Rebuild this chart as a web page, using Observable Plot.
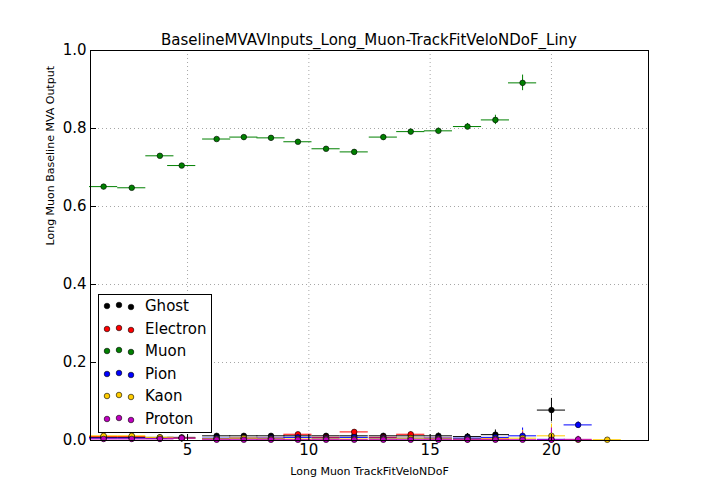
<!DOCTYPE html>
<html><head><meta charset="utf-8">
<script src="https://cdn.jsdelivr.net/npm/d3@7"></script>
<script src="https://cdn.jsdelivr.net/npm/@observablehq/plot@0.6"></script>
<style>
body{margin:0;background:#fff;font-family:"DejaVu Sans",sans-serif}
#wrap{position:relative;width:720px;height:504px}
#title{position:absolute;top:31px;left:90px;width:558px;text-align:center;font-size:15px}
#legend{position:absolute;left:98px;top:294px;width:112px;height:137px;border:1px solid #000;background:#fff;font-size:15px}
#legend div{height:22.5px;display:flex;align-items:center}
</style></head><body>
<div id="wrap"><div id="chart"></div><div id="title">BaselineMVAVInputs_Long_Muon-TrackFitVeloNDoF_Liny</div><div id="legend"></div></div>
<script>
const xCenters = [1.54,2.70,3.86,4.76,6.20,7.32,8.44,9.55,10.71,11.87,13.07,14.20,15.34,16.54,17.69,18.81,20.0,21.1,22.3];
const species = ["Ghost","Electron","Muon","Pion","Kaon","Proton"];
const colors = ["#000000","#ff0000","#008000","#0000ff","#ffcc00","#bf00bf"];
const ghost    = [0.008,0.008,0.008,0.008,0.012,0.012,0.012,0.012,0.012,0.012,0.012,0.012,0.012,0.010,0.015,null,0.078,null,null];
const electron = [0.010,0.010,0.006,0.006,0.005,0.006,0.006,0.016,0.008,0.022,0.008,0.016,0.006,0.004,0.004,null,null,null,null];
const muon     = [0.651,0.648,0.730,0.705,0.773,0.778,0.776,0.766,0.748,0.740,0.778,0.792,0.794,0.805,0.822,0.917,null,null,null];
const pion     = [0.006,0.006,0.006,0.006,0.006,0.006,0.006,0.008,0.006,0.008,0.006,0.006,0.006,0.006,0.008,0.012,0.003,0.040,null];
const kaon     = [0.012,0.012,0.008,0.006,0.004,0.006,0.004,0.004,0.004,0.004,0.004,0.006,0.004,0.003,0.004,0.006,0.012,0.002,0.002];
const proton   = [0.004,0.004,0.004,0.006,0.002,0.002,0.002,0.002,0.002,0.002,0.002,0.002,0.002,0.002,0.002,0.002,0.002,0.003,null];
const yErr     = [0.003,0.003,0.004,0.004,0.004,0.004,0.004,0.005,0.005,0.005,0.006,0.006,0.007,0.008,0.012,0.020,0.030,0.008,0.002];
const series = [ghost,electron,muon,pion,kaon,proton];

const rows = [];
series.forEach((vals,s)=>vals.forEach((v,i)=>{ if(v!=null) rows.push({s:species[s],x:xCenters[i],y:v,e:yErr[i],c:colors[s]}); }));

const chart = Plot.plot({
  width:720,height:504,marginLeft:90,marginRight:72,marginTop:50,marginBottom:64,
  style:{fontFamily:"DejaVu Sans",fontSize:"15px"},
  x:{domain:[1,24],ticks:[5,10,15,20],tickSize:-6,grid:false,label:null},
  y:{domain:[0,1],ticks:[0,0.2,0.4,0.6,0.8,1.0],tickFormat:d3.format(".1f"),tickSize:-6,label:null},
  marks:[
    Plot.gridX([5,10,15,20],{stroke:"#000",strokeOpacity:0.35,strokeDasharray:"1,3"}),
    Plot.gridY([0.2,0.4,0.6,0.8],{stroke:"#000",strokeOpacity:0.35,strokeDasharray:"1,3"}),
    Plot.ruleY(rows,{y:"y",x1:d=>d.x-0.58,x2:d=>d.x+0.58,stroke:"c"}),
    Plot.ruleX(rows,{x:"x",y1:d=>Math.max(0,d.y-d.e),y2:d=>d.y+d.e,stroke:"c"}),
    Plot.dot(rows,{x:"x",y:"y",r:2.8,fill:"c",stroke:"#000",strokeWidth:0.6}),
    Plot.frame({stroke:"#000"}),
    Plot.axisX({ticks:[5,10,15,20],tickSize:-6,tickPadding:10,fontSize:15}),
    Plot.axisY({ticks:[0,0.2,0.4,0.6,0.8,1.0],tickFormat:d3.format(".1f"),tickSize:-6,tickPadding:10,fontSize:15}),
    Plot.text(["Long Muon TrackFitVeloNDoF"],{frameAnchor:"bottom",dy:34,fontSize:11}),
    Plot.text(["Long Muon Baseline MVA Output"],{frameAnchor:"left",dx:-40,rotate:-90,fontSize:11})
  ]
});
document.getElementById("chart").append(chart);

const leg = document.getElementById("legend");
species.forEach((n,i)=>{
  const d=document.createElement("div");
  d.innerHTML=`<svg width="44" height="12"><circle cx="8" cy="6" r="2.8" fill="${colors[i]}" stroke="#000" stroke-width="0.6"/><circle cx="20" cy="5" r="2.8" fill="${colors[i]}" stroke="#000" stroke-width="0.6"/><circle cx="32" cy="7" r="2.8" fill="${colors[i]}" stroke="#000" stroke-width="0.6"/></svg><span style="margin-left:2px">${n}</span>`;
  leg.append(d);
});
</script></body></html>
